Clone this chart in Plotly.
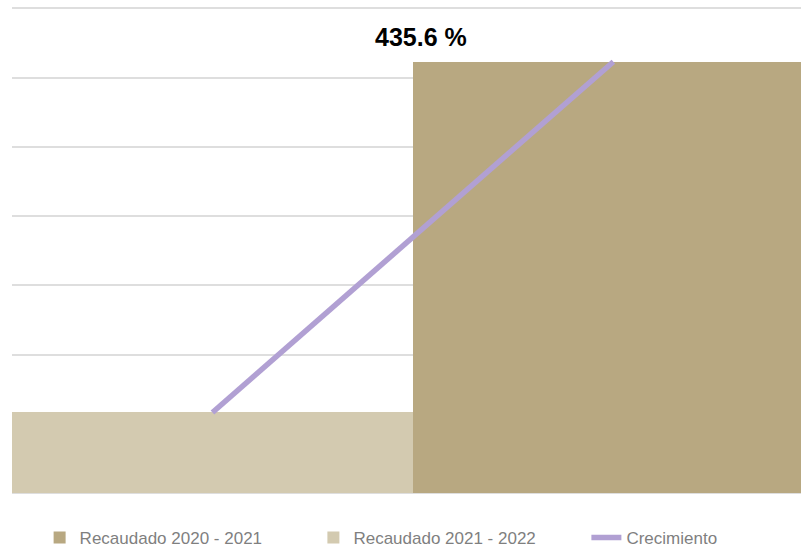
import plotly.graph_objects as go

# periods shown as bars (left bar is the lighter one in the original)
periods = ["2020 - 2021", "2021 - 2022"]
recaudado_2021_2022 = [1.163]      # left bar
recaudado_2020_2021 = [6.229]      # right bar
crecimiento = [1.163, 6.229]       # line joining both bar tops
crecimiento_label = "435.6 %"

dark = "#b8a881"
light = "#d3cab0"
purple = "#b1a0d3"

fig = go.Figure()

fig.add_trace(go.Bar(
    x=[periods[1]], y=recaudado_2020_2021, name="Recaudado 2020 - 2021",
    marker=dict(color=dark, line=dict(width=0)), width=1, legend="legend",
))
fig.add_trace(go.Bar(
    x=[periods[0]], y=recaudado_2021_2022, name="Recaudado 2021 - 2022",
    marker=dict(color=light, line=dict(width=0)), width=1, legend="legend2",
))
fig.add_trace(go.Scatter(
    x=periods, y=crecimiento, mode="lines", name="Crecimiento",
    line=dict(color=purple, width=5.5), legend="legend3",
))

fig.add_annotation(
    x=0.52, y=6.59, xref="x", yref="y", text="<b>" + crecimiento_label + "</b>",
    showarrow=False, font=dict(family="Liberation Sans", size=25, color="#000000"),
    yanchor="middle",
)

legend_style = dict(
    orientation="h", xanchor="left", yref="container", y=0.0165, yanchor="middle",
    font=dict(size=17, color="#7f7f7f"), bgcolor="rgba(0,0,0,0)",
)

fig.update_layout(
    width=801, height=547,
    margin=dict(l=12, r=0, t=7, b=54, autoexpand=False),
    paper_bgcolor="white", plot_bgcolor="white",
    barmode="overlay", bargap=0,
    font=dict(family="Liberation Sans"),
    showlegend=True,
    legend=dict(x=0.035, **legend_style),
    legend2=dict(x=0.382, **legend_style),
    legend3=dict(x=0.728, **legend_style),
)
fig.update_xaxes(
    type="category", categoryorder="array", categoryarray=periods,
    range=[-0.5, 1.468], showticklabels=False, showgrid=False, zeroline=False,
    showline=False, ticks="",
)
fig.update_yaxes(
    range=[0, 7.02], tickvals=[0, 1, 2, 3, 4, 5, 6, 7], showticklabels=False,
    showgrid=True, gridcolor="#dedede", gridwidth=1.5, zeroline=True,
    zerolinecolor="#dedede", zerolinewidth=1.5, ticks="",
)

# drop the browser's default body margin so the figure sits at the page corner
fig.write_html("out.html", config={"displayModeBar": False},
               post_script="document.body.style.margin='0';")
